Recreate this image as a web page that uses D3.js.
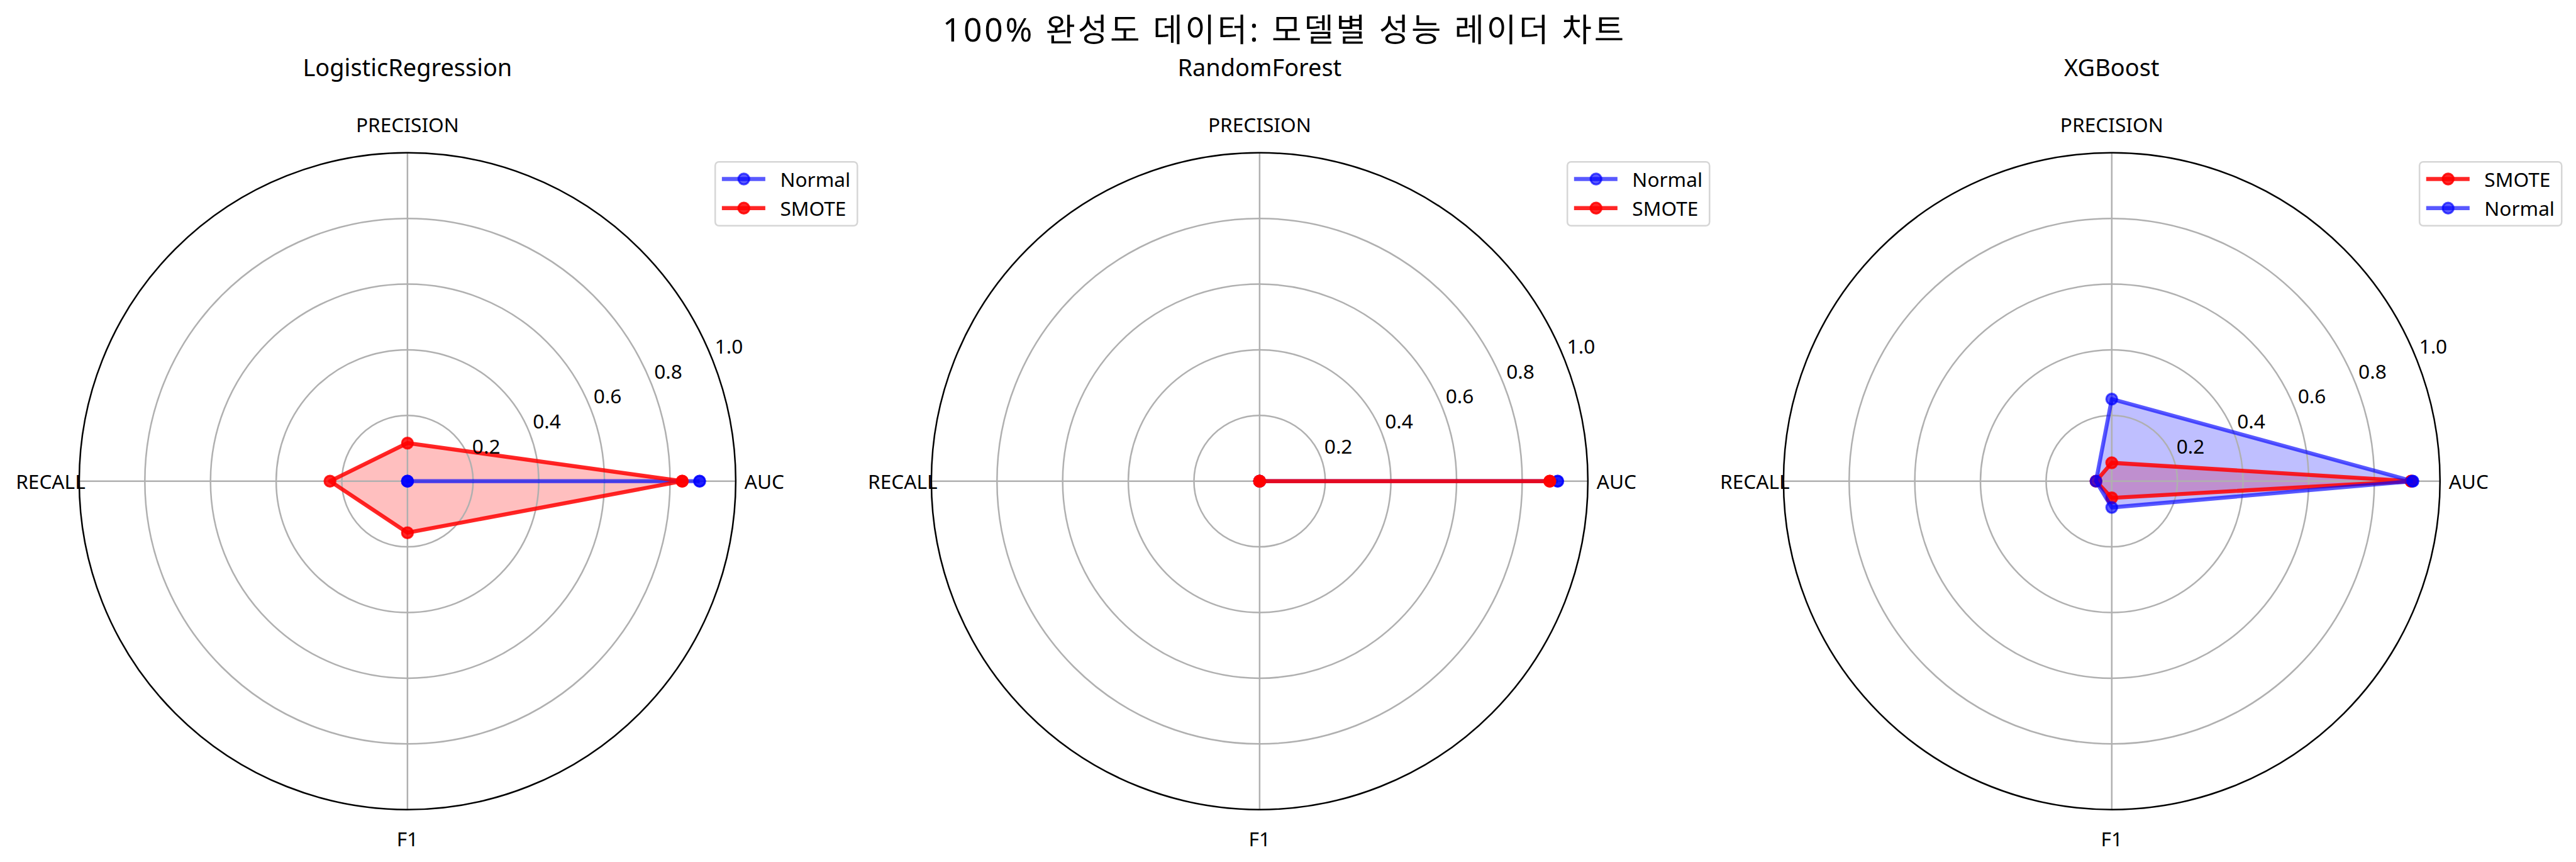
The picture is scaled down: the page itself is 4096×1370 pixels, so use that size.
<!DOCTYPE html>
<html>
<head>
<meta charset="utf-8">
<script src="https://cdn.jsdelivr.net/npm/d3@7"></script>
<style>
  html, body { margin: 0; padding: 0; background: #fff; overflow: hidden; }
  text { font-family: "Noto Sans", "Noto Sans CJK KR", sans-serif; fill: #000; }
</style>
</head>
<body>
<svg id="chart" width="4096" height="1370"></svg>
<script>
// ---------------- data ----------------
const categories = ["AUC", "PRECISION", "RECALL", "F1"];
const modelNames = ["LogisticRegression", "RandomForest", "XGBoost"];
const suptitle = "100% 완성도 데이터: 모델별 성능 레이더 차트";

const lrNormal  = [0.890, 0.000, 0.000, 0.000];
const lrSmote   = [0.837, 0.116, 0.236, 0.157];
const rfNormal  = [0.908, 0.000, 0.000, 0.000];
const rfSmote   = [0.884, 0.000, 0.000, 0.000];
const xgbSmote  = [0.912, 0.056, 0.048, 0.051];
const xgbNormal = [0.917, 0.250, 0.048, 0.080];

const radialTicks = [0.2, 0.4, 0.6, 0.8, 1.0];
const radialTickLabels = ["0.2", "0.4", "0.6", "0.8", "1.0"];

const seriesStyle = {
  Normal: { color: "blue", alpha: 0.65 },
  SMOTE:  { color: "red",  alpha: 0.85 }
};

const panels = [
  { title: modelNames[0], series: [{ name: "Normal", values: lrNormal }, { name: "SMOTE", values: lrSmote }] },
  { title: modelNames[1], series: [{ name: "Normal", values: rfNormal }, { name: "SMOTE", values: rfSmote }] },
  { title: modelNames[2], series: [{ name: "SMOTE", values: xgbSmote }, { name: "Normal", values: xgbNormal }] }
];

// ---------------- layout (reference px, then scaled) ----------------
const S = 4096 / 5399;
const svg = d3.select("#chart");
const root = svg.append("g").attr("transform", `scale(${S})`);

const centersX = [854, 2640, 4426];
const centerY = 1008;
const R = 688;
const rScale = d3.scaleLinear().domain([0, 1]).range([0, R]);
// matplotlib: theta 0 at east, counterclockwise; d3 radial angle: clockwise from north
const angleScale = d3.scaleLinear().domain([0, categories.length]).range([Math.PI / 2, Math.PI / 2 - 2 * Math.PI]);

const px = (i, v) => rScale(v) * Math.sin(angleScale(i));
const py = (i, v) => -rScale(v) * Math.cos(angleScale(i));

// suptitle
root.append("text")
  .attr("x", 2692).attr("y", 60)
  .attr("text-anchor", "middle").attr("dominant-baseline", "central")
  .style("font-size", "68px")
  .style("letter-spacing", "5px")
  .text(suptitle);

panels.forEach((panel, pi) => {
  const cx = centersX[pi];
  const g = root.append("g").attr("transform", `translate(${cx},${centerY})`);

  // subplot title
  root.append("text")
    .attr("x", cx).attr("y", 140)
    .attr("text-anchor", "middle").attr("dominant-baseline", "central")
    .style("font-size", "50px")
    .text(panel.title);

  // closed data (matplotlib style: repeat first point)
  const closed = s => s.values.map((v, i) => ({ i, v })).concat([{ i: categories.length, v: s.values[0] }]);

  const radial = d3.lineRadial()
    .angle(d => angleScale(d.i))
    .radius(d => rScale(d.v));

  // fills (patches, zorder 1)
  panel.series.forEach(s => {
    const st = seriesStyle[s.name];
    g.append("path")
      .attr("d", radial(closed(s)) + "Z")
      .attr("fill", st.color)
      .attr("fill-opacity", 0.25)
      .attr("stroke", "none");
  });

  // grid (zorder 1.5)
  radialTicks.slice(0, -1).forEach(t => {
    g.append("circle").attr("r", rScale(t))
      .attr("fill", "none").attr("stroke", "#b0b0b0").attr("stroke-width", 3.3);
  });
  categories.forEach((c, i) => {
    g.append("line")
      .attr("x1", 0).attr("y1", 0)
      .attr("x2", px(i, 1)).attr("y2", py(i, 1))
      .attr("stroke", "#b0b0b0").attr("stroke-width", 3.3);
  });

  // lines + markers (zorder 2)
  panel.series.forEach(s => {
    const st = seriesStyle[s.name];
    const pts = closed(s);
    g.append("path")
      .attr("d", radial(pts))
      .attr("fill", "none")
      .attr("stroke", st.color)
      .attr("stroke-opacity", st.alpha)
      .attr("stroke-width", 8.33)
      .attr("stroke-linejoin", "round")
      .attr("stroke-linecap", "butt");
    g.selectAll(null).data(pts).enter().append("circle")
      .attr("cx", d => px(d.i, d.v))
      .attr("cy", d => py(d.i, d.v))
      .attr("r", 11.5)
      .attr("fill", st.color).attr("fill-opacity", st.alpha)
      .attr("stroke", st.color).attr("stroke-opacity", st.alpha)
      .attr("stroke-width", 4);
  });

  // outer spine
  g.append("circle").attr("r", rScale(1))
    .attr("fill", "none").attr("stroke", "#000").attr("stroke-width", 3.3);

  // theta labels
  categories.forEach((c, i) => {
    g.append("text")
      .attr("x", (R + 60) * Math.sin(angleScale(i)))
      .attr("y", -(R + 60) * Math.cos(angleScale(i)))
      .attr("text-anchor", "middle").attr("dominant-baseline", "central")
      .style("font-size", "41.7px")
      .text(c);
  });

  // radial tick labels at 22.5°
  const labAng = 22.5 * Math.PI / 180;
  radialTicks.forEach((t, k) => {
    g.append("text")
      .attr("x", rScale(t) * Math.cos(labAng) + 38)
      .attr("y", -rScale(t) * Math.sin(labAng) - 21)
      .attr("text-anchor", "middle").attr("dominant-baseline", "central")
      .style("font-size", "41.7px")
      .text(radialTickLabels[k]);
  });

  // legend
  const lg = root.append("g").attr("transform", `translate(${cx + 645},339)`);
  lg.append("rect")
    .attr("x", 0).attr("y", 0).attr("width", 298).attr("height", 134)
    .attr("rx", 8).attr("ry", 8)
    .attr("fill", "#fff").attr("fill-opacity", 0.8)
    .attr("stroke", "#d6d6d6").attr("stroke-width", 3.3);
  panel.series.forEach((s, k) => {
    const st = seriesStyle[s.name];
    const yy = 36 + k * 61;
    lg.append("line")
      .attr("x1", 14).attr("x2", 105).attr("y1", yy).attr("y2", yy)
      .attr("stroke", st.color).attr("stroke-opacity", st.alpha).attr("stroke-width", 8.33);
    lg.append("circle")
      .attr("cx", 60).attr("cy", yy).attr("r", 11.5)
      .attr("fill", st.color).attr("fill-opacity", st.alpha)
      .attr("stroke", st.color).attr("stroke-opacity", st.alpha).attr("stroke-width", 4);
    lg.append("text")
      .attr("x", 136).attr("y", yy)
      .attr("dominant-baseline", "central")
      .style("font-size", "41.7px")
      .text(s.name);
  });
});
</script>
</body>
</html>
